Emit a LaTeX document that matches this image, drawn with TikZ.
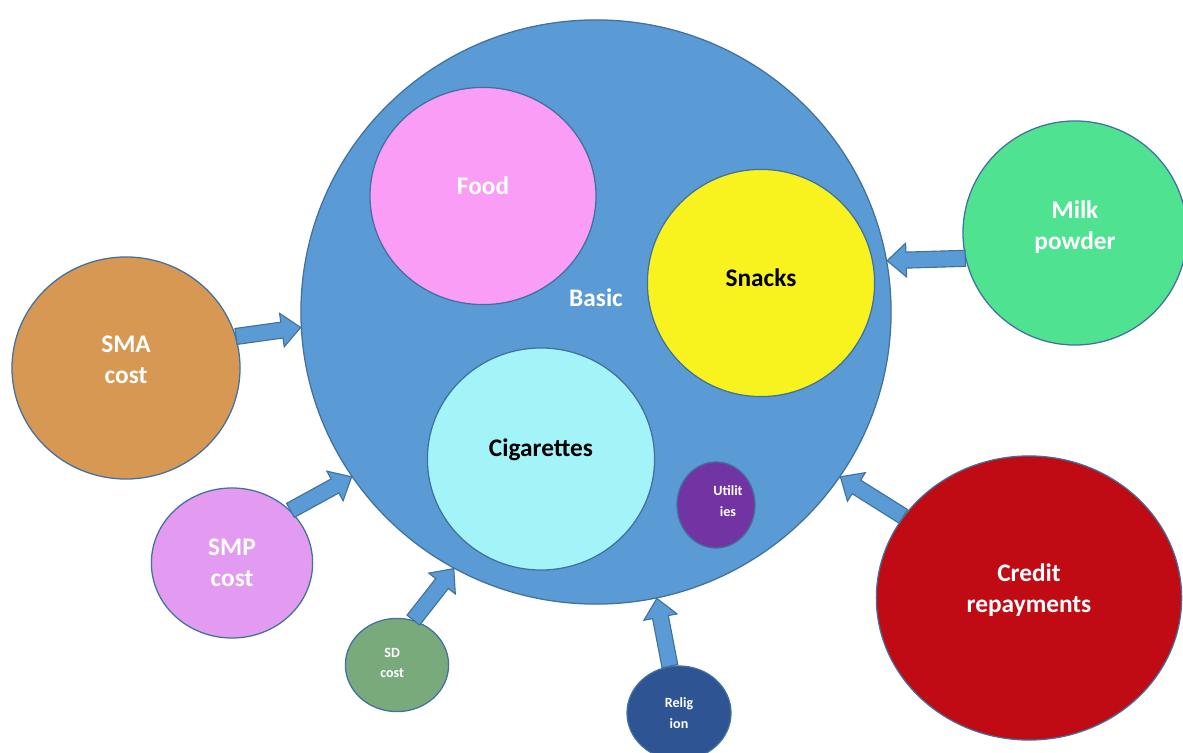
\documentclass[tikz,border=0pt]{standalone}
\usepackage{fontspec}
\setmainfont{Carlito}
\usepackage{tikz}
\usetikzlibrary{shapes.geometric,calc}
\definecolor{basicblue}{HTML}{5B9BD5}
\definecolor{rim}{HTML}{41719C}
\definecolor{foodpink}{HTML}{F99DF7}
\definecolor{snackyellow}{HTML}{F8F31F}
\definecolor{cigcyan}{HTML}{A2F4F8}
\definecolor{utilpurple}{HTML}{7334A3}
\definecolor{milkgreen}{HTML}{4FE391}
\definecolor{smaorange}{HTML}{D69853}
\definecolor{smpviolet}{HTML}{E29BF0}
\definecolor{sdgreen}{HTML}{79AA7C}
\definecolor{religblue}{HTML}{2E5494}
\definecolor{creditred}{HTML}{C00A14}

\begin{document}
\begin{tikzpicture}[x=0.025cm,y=-0.025cm,
  blob/.style={ellipse,draw=rim,line width=0.9pt,inner sep=0pt},
  lbl/.style={font=\bfseries\fontsize{18}{22}\selectfont,align=center,text=white},
  lbls/.style={font=\bfseries\fontsize{10}{14.5}\selectfont,align=center,text=white},
  flow/.style={draw=rim,fill=basicblue,line width=0.8pt,line join=miter,
    to path={let \p1=(\tikztostart), \p2=(\tikztotarget), \n1={atan2(\y2-\y1,\x2-\x1)} in
      ($(\p1)+(\n1+90:5.7pt)$) -- ($(\p2)+(\n1+180:13.5pt)+(\n1+90:5.7pt)$)
      -- ($(\p2)+(\n1+180:13.5pt)+(\n1+90:12pt)$) -- (\p2)
      -- ($(\p2)+(\n1+180:13.5pt)+(\n1-90:12pt)$)
      -- ($(\p2)+(\n1+180:13.5pt)+(\n1-90:5.7pt)$)
      -- ($(\p1)+(\n1-90:5.7pt)$) -- cycle}}]
\useasboundingbox (0,0) rectangle (1183,753);
\node[blob,fill=basicblue,minimum width=14.75cm,minimum height=14.6cm,label={[lbl,yshift=0.35cm]center:Basic}] (basic) at (596,312) {};
\node[blob,fill=foodpink,minimum width=5.65cm,minimum height=5.43cm,label={[lbl,yshift=0.25cm]center:Food}] (food) at (483,196) {};
\node[blob,fill=snackyellow,minimum width=5.68cm,minimum height=5.68cm,label={[lbl,text=black,yshift=0.12cm]center:Snacks}] (snacks) at (761,283) {};
\node[blob,fill=cigcyan,minimum width=5.68cm,minimum height=5.55cm,label={[lbl,text=black,yshift=0.22cm]center:Cigarettes}] (cigs) at (541,459) {};
\node[blob,fill=utilpurple,minimum width=1.95cm,minimum height=2.15cm,label={[lbls,xshift=0.3cm,yshift=0.1cm]center:{Utilit\\ies}}] (util) at (716,505) {};
\node[blob,fill=milkgreen,minimum width=5.6cm,minimum height=5.6cm,label={[lbl,yshift=0.15cm]center:{Milk\\powder}}] (milk) at (1075,233) {};
\node[blob,fill=smaorange,minimum width=5.7cm,minimum height=5.55cm,label={[lbl,yshift=0.2cm]center:{SMA\\cost}}] (sma) at (126,368) {};
\node[blob,fill=smpviolet,minimum width=4.03cm,minimum height=3.75cm,label={[lbl]center:{SMP\\cost}}] (smp) at (232,563) {};
\node[blob,fill=sdgreen,minimum width=2.58cm,minimum height=2.33cm,label={[lbls,xshift=-0.12cm,yshift=0.05cm]center:{SD\\cost}}] (sd) at (397,665) {};
\node[blob,fill=religblue,minimum width=2.6cm,minimum height=2.35cm,label={[lbls]center:{Relig\\ion}}] (relig) at (679,713) {};
\node[blob,fill=creditred,minimum width=7.63cm,minimum height=7.1cm,label={[lbl,yshift=0.2cm]center:{Credit\\repayments}}] (credit) at (1029,598) {};
\draw[flow] (sma.16) to (basic.183.5);
\draw[flow] (milk.193.5) to (basic.10);
\draw[flow] (credit.147) to (basic.326);
\draw[flow] (smp.42) to (basic.214);
\draw[flow] (sd.70) to (basic.241);
\draw[flow] (relig.101) to (basic.282);
\end{tikzpicture}
\end{document}
